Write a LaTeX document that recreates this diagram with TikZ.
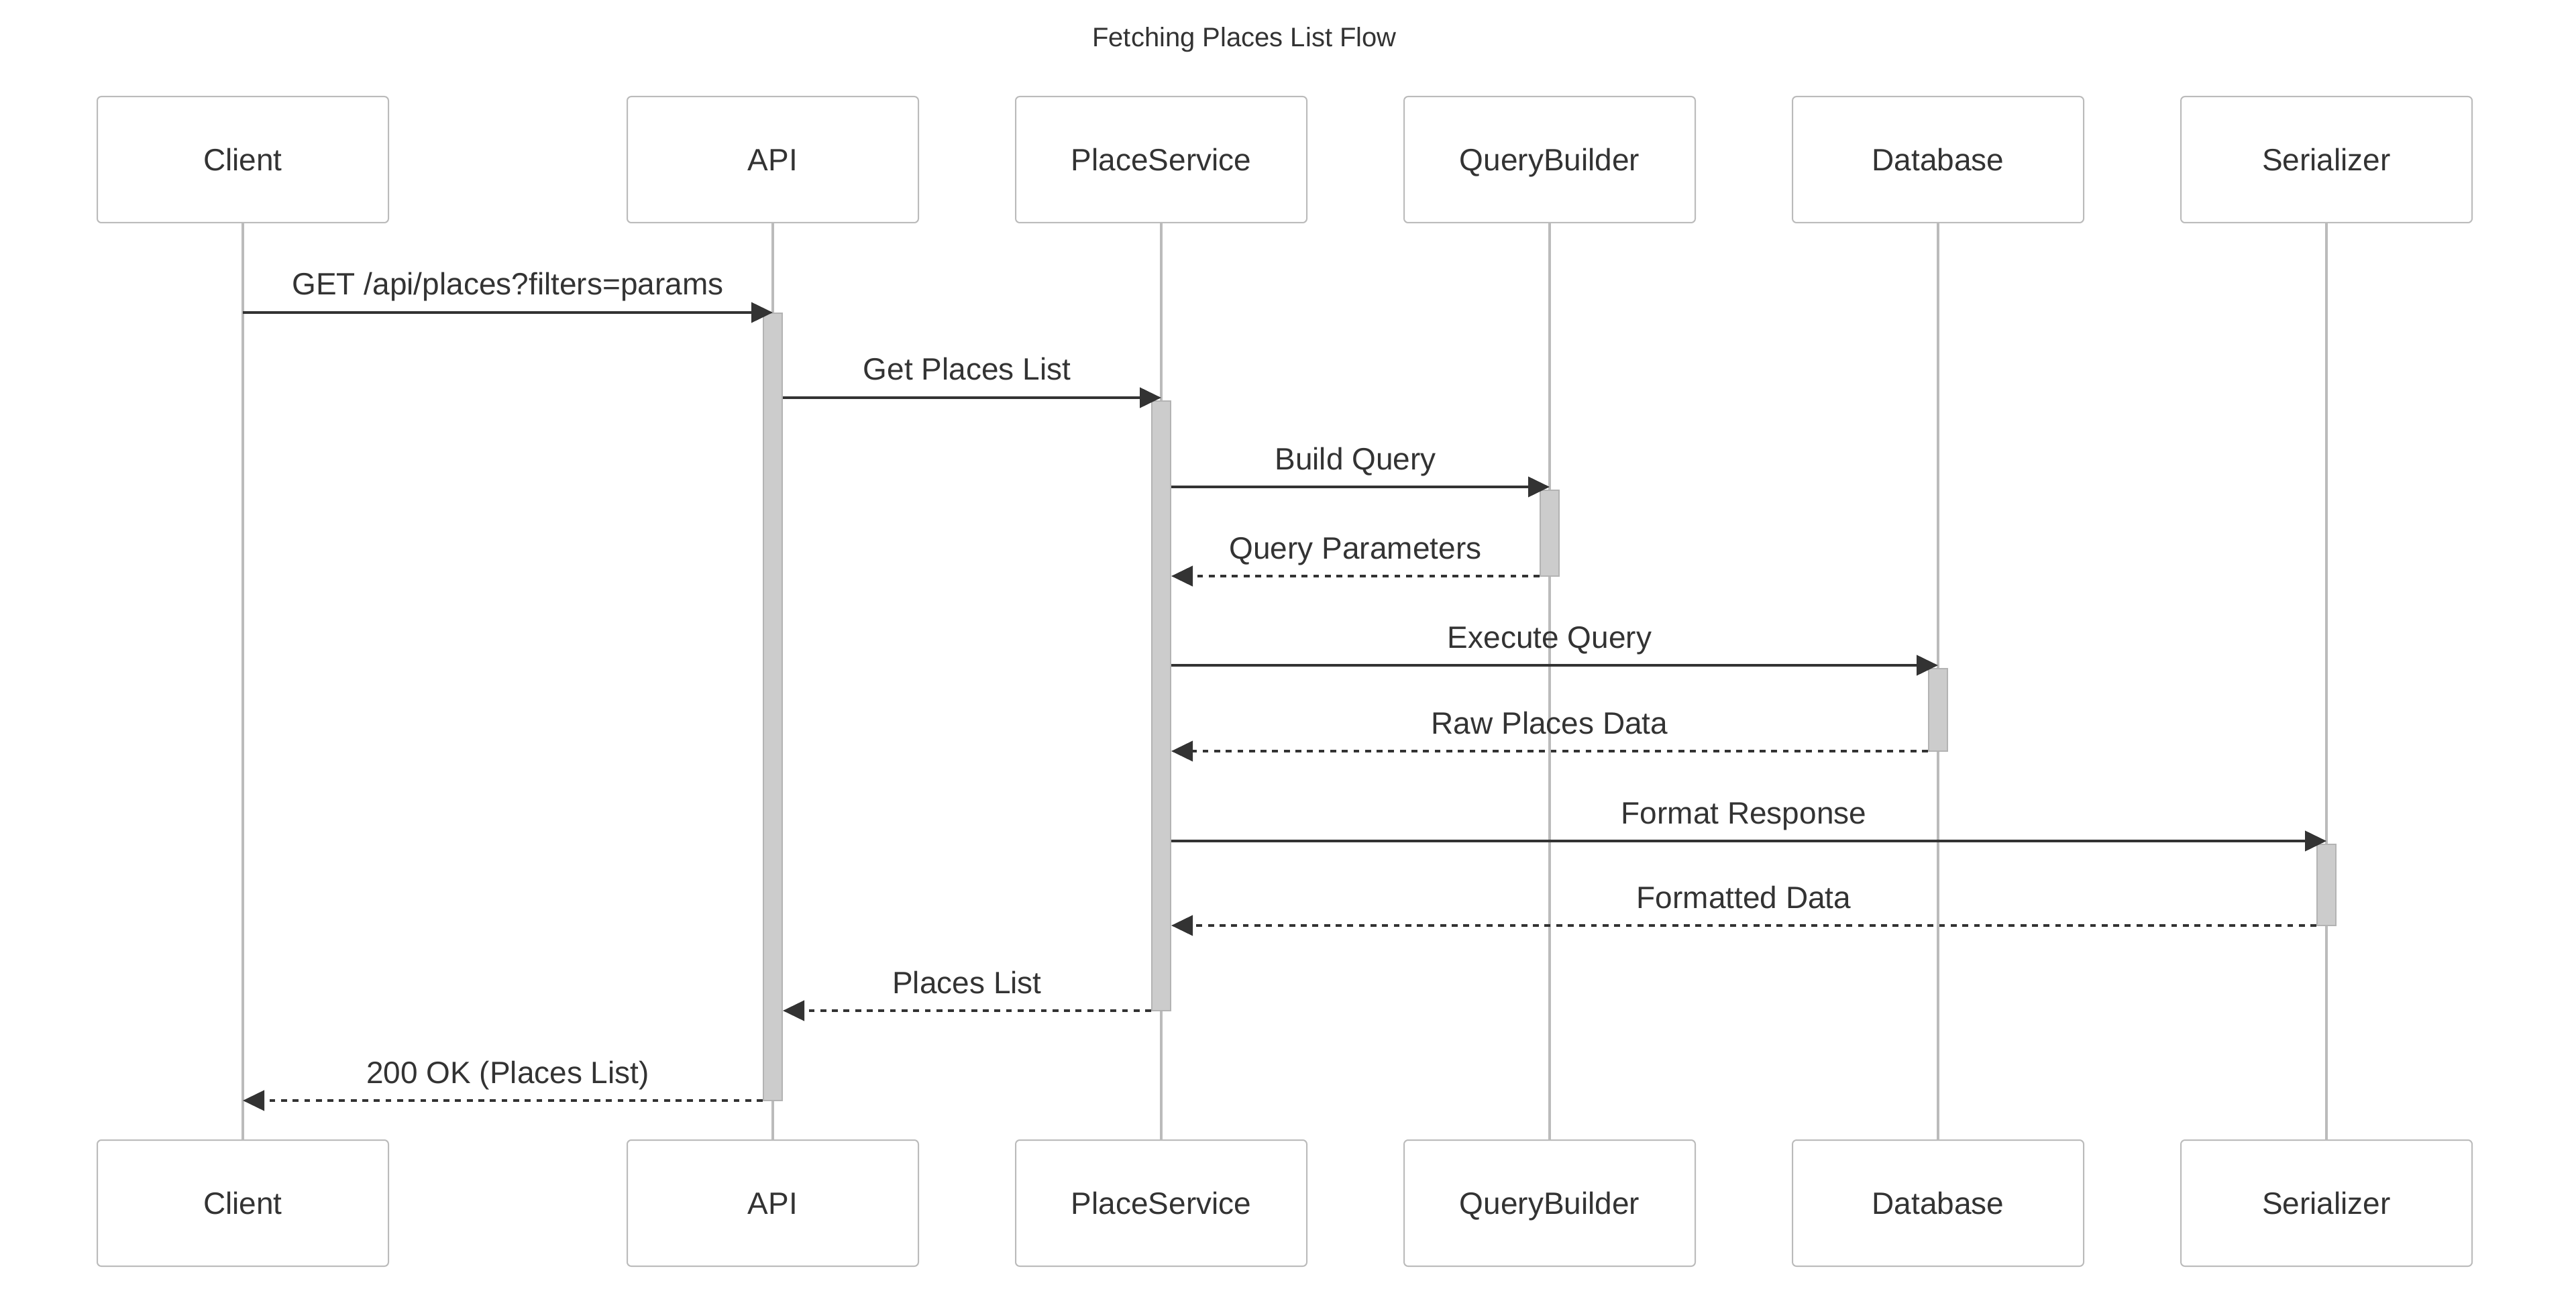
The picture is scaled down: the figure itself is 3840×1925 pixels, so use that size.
\documentclass[tikz,border=0pt]{standalone}
\usepackage{fontspec}
\setmainfont{Liberation Sans}
\usetikzlibrary{arrows.meta}
\definecolor{ink}{HTML}{333333}
\definecolor{edgegrey}{HTML}{BBBBBB}
\definecolor{actfill}{HTML}{CCCCCC}
\definecolor{actedge}{HTML}{B3B3B3}
\tikzset{
  part/.style={draw=edgegrey, line width=1pt, rounded corners=3pt, fill=white,
    minimum width=217pt, minimum height=94pt, inner sep=0pt, text=ink,
    font=\fontsize{23}{27}\selectfont, text height=16.5pt, text depth=0pt},
  life/.style={draw=edgegrey, line width=2.2pt},
  act/.style={draw=actedge, fill=actfill, line width=1pt, minimum width=14pt, inner sep=0pt},
  msg/.style={draw=ink, line width=2pt, -{Triangle[length=16pt,width=15pt]}},
  ret/.style={msg, dash pattern=on 4.4pt off 4.25pt},
  lbl/.style={text=ink, font=\fontsize{23}{27}\selectfont, anchor=base, inner sep=0pt},
}
\begin{document}
\begin{tikzpicture}[x=0.5pt, y=-0.5pt]
\fill[white] (0,0) rectangle (3840,1925);
\useasboundingbox (0,0) rectangle (3840,1925);

% title
\node[text=ink, font=\fontsize{20}{24}\selectfont] (title) at (1855,59) {Fetching Places List Flow};

% participants
\node[part] (cT) at (362,238) {Client};
\node[part] (aT) at (1152,238) {API};
\node[part] (pT) at (1731,238) {PlaceService};
\node[part] (qT) at (2310,238) {QueryBuilder};
\node[part] (dT) at (2889,238) {Database};
\node[part] (sT) at (3468,238) {Serializer};
\node[part] (cB) at (362,1794) {Client};
\node[part] (aB) at (1152,1794) {API};
\node[part] (pB) at (1731,1794) {PlaceService};
\node[part] (qB) at (2310,1794) {QueryBuilder};
\node[part] (dB) at (2889,1794) {Database};
\node[part] (sB) at (3468,1794) {Serializer};

% lifelines
\draw[life] (cT.south) -- (cB.north);
\draw[life] (aT.south) -- (aB.north);
\draw[life] (pT.south) -- (pB.north);
\draw[life] (qT.south) -- (qB.north);
\draw[life] (dT.south) -- (dB.north);
\draw[life] (sT.south) -- (sB.north);

% activations
\node[act, minimum height=587pt] (aA) at (1152,1054) {};
\node[act, minimum height=454.5pt] (pA) at (1731,1052.5) {};
\node[act, minimum height=64pt] (qA) at (2310,795) {};
\node[act, minimum height=61.5pt] (dA) at (2889,1058.5) {};
\node[act, minimum height=60.5pt] (sA) at (3468,1319.5) {};

% message rows
\coordinate (y1) at (0,466);
\coordinate (y2) at (0,593);
\coordinate (y3) at (0,726);
\coordinate (y4) at (0,859);
\coordinate (y5) at (0,992);
\coordinate (y6) at (0,1120);
\coordinate (y7) at (0,1254);
\coordinate (y8) at (0,1380);
\coordinate (y9) at (0,1507);
\coordinate (y10) at (0,1641);

% messages
\draw[msg] (cT |- y1) -- (aT |- y1);
\draw[msg] (aA.east |- y2) -- (pT |- y2);
\draw[msg] (pA.east |- y3) -- (qT |- y3);
\draw[ret] (qA.west |- y4) -- (pA.east |- y4);
\draw[msg] (pA.east |- y5) -- (dT |- y5);
\draw[ret] (dA.west |- y6) -- (pA.east |- y6);
\draw[msg] (pA.east |- y7) -- (sT |- y7);
\draw[ret] (sA.west |- y8) -- (pA.east |- y8);
\draw[ret] (pA.west |- y9) -- (aA.east |- y9);
\draw[ret] (aA.west |- y10) -- (cT |- y10);

% labels
\node[lbl] (l1) at (757,440) {GET /api/places?filters=params};
\node[lbl] (l2) at (1441.5,567) {Get Places List};
\node[lbl] (l3) at (2020.5,700) {Build Query};
\node[lbl] (l4) at (2020.5,833) {Query Parameters};
\node[lbl] (l5) at (2310,966) {Execute Query};
\node[lbl] (l6) at (2310,1094) {Raw Places Data};
\node[lbl] (l7) at (2599.5,1228) {Format Response};
\node[lbl] (l8) at (2599.5,1354) {Formatted Data};
\node[lbl] (l9) at (1441.5,1481) {Places List};
\node[lbl] (l10) at (757,1615) {200 OK (Places List)};
\end{tikzpicture}
\end{document}
